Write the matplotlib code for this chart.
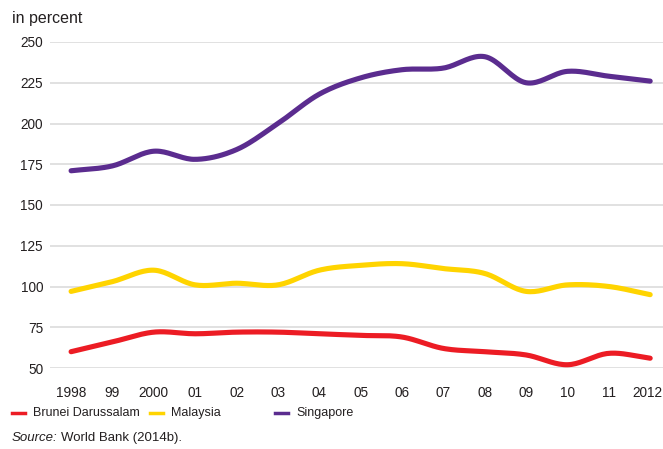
import numpy as np
import matplotlib
matplotlib.use("Agg")
import matplotlib.pyplot as plt
import matplotlib.transforms as mtransforms
from matplotlib.lines import Line2D

years = list(range(1998, 2013))
year_labels = ["1998", "99", "2000", "01", "02", "03", "04", "05", "06",
               "07", "08", "09", "10", "11", "2012"]

brunei = [60, 66, 72, 71, 72, 72, 71, 70, 69, 62, 60, 58, 52, 59, 56]
malaysia = [97, 103, 110, 101, 102, 101, 110, 113, 114, 111, 108, 97, 101, 100, 95]
singapore = [171, 174, 183, 178, 184, 200, 218, 228, 233, 234, 241, 225, 232, 229, 226]

series_names = ["Brunei Darussalam", "Malaysia", "Singapore"]
series_colors = ["#ec1c24", "#ffd400", "#5b2c8f"]
y_ticks = [50, 75, 100, 125, 150, 175, 200, 225, 250]

FONT = ["Liberation Sans", "DejaVu Sans"]
TXT = "#231f20"
FS = 9.8


def smooth(x, y, steps=20):
    # Catmull-Rom curve through the points, like a spreadsheet "smoothed line"
    x = np.asarray(x, float)
    y = np.asarray(y, float)
    px = np.concatenate([[2 * x[0] - x[1]], x, [2 * x[-1] - x[-2]]])
    py = np.concatenate([[2 * y[0] - y[1]], y, [2 * y[-1] - y[-2]]])
    xs, ys = [], []
    t = np.linspace(0, 1, steps, endpoint=False)
    for i in range(1, len(px) - 2):
        for arr, out in ((px, xs), (py, ys)):
            p0, p1, p2, p3 = arr[i - 1], arr[i], arr[i + 1], arr[i + 2]
            out.extend(0.5 * (2 * p1 + (-p0 + p2) * t
                              + (2 * p0 - 5 * p1 + 4 * p2 - p3) * t ** 2
                              + (-p0 + 3 * p1 - 3 * p2 + p3) * t ** 3))
    xs.append(x[-1])
    ys.append(y[-1])
    return np.array(xs), np.array(ys)


W, H = 663, 449
fig = plt.figure(figsize=(W / 100, H / 100), dpi=100)
ax = fig.add_axes([50 / W, 1 - 368 / H, 613 / W, 326 / H])

for vals, color in zip([brunei, malaysia, singapore], series_colors):
    sx, sy = smooth(years, vals)
    ax.plot(sx, sy, color=color, lw=3.7, solid_capstyle="round", clip_on=False, zorder=3)

ax.set_xlim(1997.49, 2012.31)
ax.set_ylim(50, 250)
ax.set_yticks(y_ticks)
ax.set_xticks(years)
ax.set_xticklabels(year_labels)
ax.yaxis.grid(True, color="#dcdcdc", lw=1.2)
ax.set_axisbelow(True)
for s in ax.spines.values():
    s.set_visible(False)
ax.tick_params(length=0, labelsize=FS, colors=TXT)
ax.tick_params(axis="y", pad=5)
ax.tick_params(axis="x", pad=13)
for lab in ax.get_xticklabels() + ax.get_yticklabels():
    lab.set_family(FONT)
# nudge the last year label left so it stays inside the picture
last = ax.get_xticklabels()[-1]
last.set_transform(last.get_transform() +
                   mtransforms.ScaledTranslation(-3 / 100, 0, fig.dpi_scale_trans))

fig.text(12 / W, 1 - 18 / H, "in percent", fontsize=11.5, family=FONT,
         color=TXT, va="center")

# legend drawn by hand so the three entries sit where the original has them
leg_y = 1 - 413 / H
for name, color, x0 in zip(series_names, series_colors, [12, 150, 275]):
    fig.add_artist(Line2D([x0 / W, (x0 + 13) / W], [leg_y, leg_y],
                          color=color, lw=2.5, transform=fig.transFigure))
    fig.text((x0 + 21) / W, leg_y, name, fontsize=9, family=FONT,
             color=TXT, va="center")

src = fig.text(12 / W, 1 - 438 / H, "Source:", fontsize=9.5, style="italic",
               family=FONT, color=TXT, va="center")
fig.canvas.draw()
bb = src.get_window_extent()
fig.text((bb.x1 + 3) / W, 1 - 438 / H, "World Bank (2014b).", fontsize=9.5,
         family=FONT, color=TXT, va="center")

fig.savefig("out.png", dpi=100)
